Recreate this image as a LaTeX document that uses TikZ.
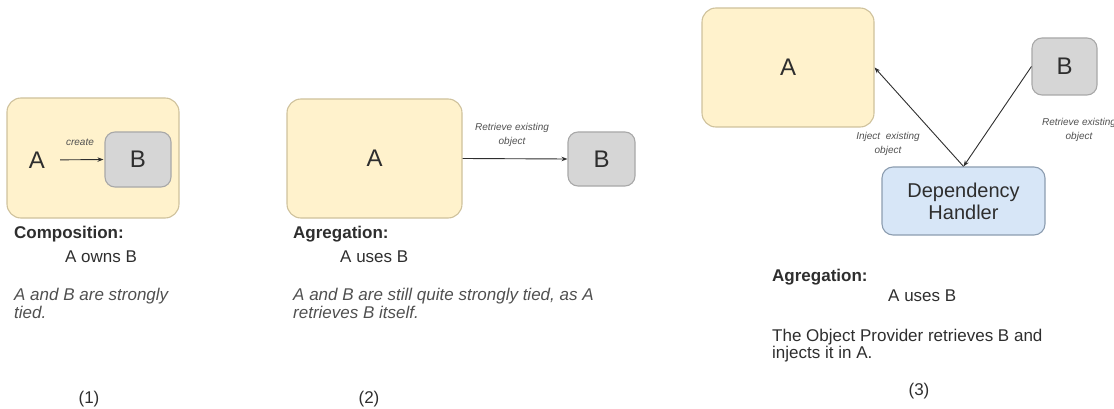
\documentclass[tikz,border=0pt]{standalone}
\usepackage{fontspec}
\setmainfont{Liberation Sans}
\usetikzlibrary{arrows.meta}
\definecolor{ink}{HTML}{2E2E2E}
\definecolor{softink}{HTML}{505050}
\definecolor{yfill}{HTML}{FFF2CC}
\definecolor{ydraw}{HTML}{CFC29C}
\definecolor{gfill}{HTML}{D6D6D6}
\definecolor{gdraw}{HTML}{A8A8A8}
\definecolor{bfill}{HTML}{D7E6F7}
\definecolor{bdraw}{HTML}{8C9DB0}
\tikzset{
  classbox/.style={rounded corners=14pt, line width=1.1pt, inner sep=0pt,
    font=\fontsize{24}{28}\selectfont, text=ink},
  ybox/.style={classbox, fill=yfill, draw=ydraw},
  gbox/.style={classbox, fill=gfill, draw=gdraw, rounded corners=10pt},
  hbox/.style={classbox, fill=bfill, draw=bdraw, rounded corners=11pt,
    font=\fontsize{20}{23}\selectfont, align=center},
  link/.style={line width=0.9pt, draw=ink, -{Stealth[length=6pt,width=4.5pt]}},
  tag/.style={font=\fontsize{10}{14}\selectfont\itshape, text=softink,
    align=center, inner sep=0pt},
  title/.style={font=\fontsize{17}{20}\selectfont\bfseries, text=ink,
    anchor=base west, inner sep=0pt},
  body/.style={font=\fontsize{17}{20}\selectfont, text=ink,
    anchor=base west, inner sep=0pt},
  note/.style={font=\fontsize{17}{18}\selectfont\itshape, text=softink,
    anchor=north west, inner sep=0pt, align=left},
  number/.style={font=\fontsize{17}{20}\selectfont, text=ink,
    anchor=base, inner sep=0pt},
}
\begin{document}
\begin{tikzpicture}[x=1pt, y=-1pt]
\useasboundingbox (0,0) rectangle (1114,409);

% (1) composition: B lives inside A
\node[ybox, minimum width=172pt, minimum height=120pt] (a1frame) at (93,158) {};
\node[font=\fontsize{24}{28}\selectfont, text=ink, inner sep=0pt] (a1) at (37,160) {A};
\node[gbox, minimum width=66pt, minimum height=55pt] (b1) at (138,159.5) {B};
\draw[link, shorten <=15pt, shorten >=1pt] (a1.east) -- (b1.west);
\node[tag] (create) at (80,142) {create};

\node[title] (t1) at (14,238) {Composition:};
\node[body] (u1) at (65,262) {A owns B};
\node[note] (n1) at (14,288) {A and B are strongly\\tied.};
\node[number] (k1) at (89,403) {(1)};

% (2) aggregation: A fetches an existing B
\node[ybox, minimum width=175pt, minimum height=119pt] (a2) at (374.5,158.5) {A};
\node[gbox, minimum width=67pt, minimum height=54pt] (b2) at (601.5,159) {B};
\draw[link] (a2.east) -- (b2.west);
\node[tag] (r2) at (512,135) {Retrieve existing\\object};

\node[title] (t2) at (293,238) {Agregation:};
\node[body] (u2) at (340,262) {A uses B};
\node[note] (n2) at (293,288) {A and B are still quite strongly tied, as A\\retrieves B itself.};
\node[number] (k2) at (369,403) {(2)};

% (3) aggregation through a dependency handler
\node[ybox, minimum width=172pt, minimum height=119pt] (a3) at (788,67.5) {A};
\node[gbox, minimum width=65pt, minimum height=57pt] (b3) at (1064.5,66.5) {B};
\node[hbox, minimum width=163pt, minimum height=68pt] (dh) at (963.5,201) {Dependency\\[-1pt]Handler};
\draw[link] (dh.north) -- (a3.east);
\draw[link] (b3.west) -- (dh.north);
\node[tag] (i3) at (888,144) {Inject\ \ existing\\object};
\node[tag] (r3) at (1079,130) {Retrieve existing\\object};

\node[title] (t3) at (772,281) {Agregation:};
\node[body] (u3) at (888,301) {A uses B};
\node[font=\fontsize{17}{15}\selectfont, text=ink, anchor=north west,
  inner sep=0pt, align=left] (n3) at (772,329) {The Object Provider retrieves B and\\injects it in A.};
\node[number] (k3) at (919,395) {(3)};
\end{tikzpicture}
\end{document}
